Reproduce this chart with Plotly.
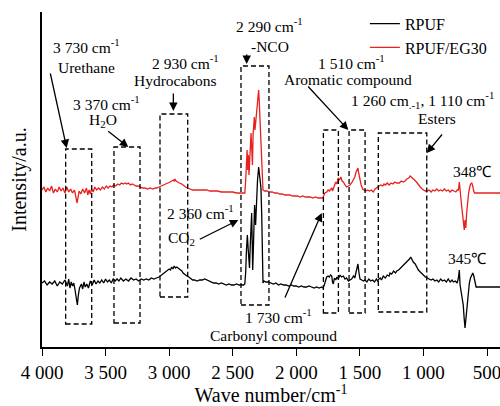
import plotly.graph_objects as go

# ---------------- data ----------------
rpuf_wn = [4000, 3980, 3960, 3940, 3920, 3900, 3880, 3860, 3840, 3820, 3800, 3790, 3780, 3770, 3760, 3750,
           3740, 3730, 3722, 3715, 3705, 3690, 3680, 3670, 3660, 3648, 3635, 3620, 3605, 3590, 3575, 3560,
           3545, 3530, 3515, 3500, 3485, 3470, 3455, 3440, 3425, 3410, 3395, 3380, 3360, 3340, 3320, 3300,
           3280, 3260, 3240, 3220, 3200, 3180, 3160, 3140, 3120, 3100, 3080, 3060, 3040, 3020, 3000, 2990,
           2980, 2970, 2960, 2950, 2940, 2930, 2920, 2910, 2900, 2890, 2875, 2860, 2845, 2830, 2815, 2800,
           2780, 2760, 2740, 2720, 2705, 2690, 2670, 2650, 2630, 2610, 2590, 2570, 2550, 2530, 2510, 2490,
           2470, 2450, 2430, 2415, 2405, 2398, 2392, 2385, 2378, 2372, 2368, 2362, 2356, 2351, 2347, 2343,
           2338, 2333, 2328, 2320, 2314, 2305, 2296, 2290, 2283, 2278, 2272, 2266, 2262, 2255, 2240, 2220,
           2200, 2180, 2160, 2140, 2120, 2100, 2080, 2060, 2040, 2020, 2000, 1980, 1960, 1940, 1920, 1900,
           1880, 1860, 1840, 1820, 1800, 1790, 1780, 1770, 1761, 1750, 1740, 1730, 1721, 1715, 1709, 1700,
           1690, 1680, 1670, 1656, 1645, 1630, 1617, 1605, 1590, 1578, 1565, 1550, 1540, 1530, 1522, 1515,
           1508, 1499, 1485, 1470, 1460, 1445, 1430, 1415, 1400, 1385, 1370, 1360, 1350, 1340, 1330, 1316,
           1300, 1285, 1270, 1263, 1250, 1235, 1220, 1210, 1195, 1180, 1165, 1155, 1140, 1125, 1110, 1100,
           1090, 1080, 1065, 1053, 1040, 1025, 1010, 1000, 985, 970, 955, 940, 925, 910, 895, 880,
           865, 850, 835, 820, 805, 790, 775, 765, 750, 735, 725, 718, 712, 705, 695, 687,
           680, 673, 667, 660, 653, 646, 639, 630, 620, 612, 604, 597, 592, 586, 500, 398]
rpuf_px = [283, 281, 285, 282, 284, 281, 286, 282, 284, 280, 286, 279, 288, 282, 286, 283,
           290, 298, 305, 296, 288, 284, 289, 282, 287, 284, 288, 281, 285, 280, 284, 281,
           283, 280, 283, 279, 282, 280, 283, 279, 281, 279, 281, 278, 281, 279, 281, 278,
           280, 279, 281, 279, 280, 279, 280, 278, 279, 278, 277, 275, 273, 271, 269, 270,
           267, 269, 266, 268, 267, 268, 269, 270, 271, 273, 275, 276, 277, 279, 280, 280,
           281, 280, 280, 279, 280, 281, 282, 283, 283, 284, 283, 284, 285, 284, 285, 285,
           284, 285, 285, 285, 284, 272, 250, 235, 250, 262, 268, 245, 225, 213, 240, 270,
           250, 215, 205, 225, 200, 180, 167, 175, 183, 188, 215, 260, 283, 281, 282, 282,
           283, 284, 283, 285, 284, 285, 285, 286, 285, 286, 286, 287, 286, 287, 287, 286,
           287, 288, 287, 288, 287, 288, 285, 280, 277, 276, 277, 275, 276, 282, 284, 278,
           280, 277, 279, 275, 277, 276, 279, 278, 281, 280, 279, 276, 278, 272, 268, 264,
           272, 279, 280, 281, 280, 282, 279, 281, 280, 282, 279, 281, 279, 278, 280, 276,
           278, 275, 276, 273, 274, 271, 273, 271, 270, 268, 267, 265, 263, 261, 259, 257,
           260, 262, 264, 267, 270, 272, 274, 275, 277, 278, 279, 280, 279, 281, 280, 282,
           279, 281, 280, 282, 279, 282, 280, 282, 281, 283, 278, 270, 285, 292, 300, 305,
           318, 328, 320, 310, 298, 290, 283, 278, 274, 273, 276, 280, 286, 287, 287, 287]

eg_wn = [4000, 3985, 3970, 3955, 3940, 3925, 3910, 3895, 3880, 3865, 3850, 3835, 3820, 3805, 3790, 3775,
         3760, 3745, 3735, 3725, 3717, 3708, 3695, 3680, 3665, 3650, 3640, 3630, 3620, 3610, 3597, 3585,
         3570, 3555, 3540, 3525, 3510, 3495, 3480, 3465, 3450, 3435, 3420, 3405, 3390, 3375, 3360, 3345,
         3334, 3320, 3305, 3290, 3275, 3260, 3245, 3229, 3210, 3190, 3170, 3150, 3127, 3110, 3098, 3080,
         3060, 3040, 3020, 3005, 2993, 2980, 2967, 2960, 2954, 2945, 2935, 2920, 2901, 2885, 2870, 2855,
         2836, 2815, 2790, 2760, 2730, 2705, 2680, 2650, 2620, 2590, 2560, 2530, 2500, 2470, 2440, 2420,
         2405, 2398, 2392, 2387, 2382, 2377, 2372, 2368, 2363, 2356, 2350, 2345, 2340, 2335, 2330, 2325,
         2318, 2310, 2302, 2296, 2292, 2286, 2280, 2274, 2268, 2262, 2250, 2230, 2210, 2190, 2170, 2150,
         2130, 2110, 2090, 2070, 2050, 2030, 2010, 1990, 1970, 1950, 1930, 1910, 1890, 1870, 1850, 1830,
         1810, 1795, 1785, 1775, 1761, 1750, 1740, 1730, 1721, 1715, 1709, 1700, 1690, 1680, 1670, 1660,
         1650, 1640, 1630, 1617, 1605, 1590, 1578, 1565, 1550, 1540, 1530, 1522, 1515, 1508, 1499, 1490,
         1478, 1468, 1455, 1440, 1425, 1410, 1395, 1380, 1365, 1350, 1335, 1320, 1310, 1300, 1285, 1270,
         1255, 1240, 1225, 1210, 1190, 1175, 1160, 1145, 1130, 1115, 1105, 1095, 1085, 1070, 1055, 1040,
         1025, 1010, 1000, 985, 970, 955, 940, 925, 910, 895, 880, 865, 850, 835, 820, 805,
         790, 775, 760, 745, 735, 725, 718, 712, 705, 698, 690, 684, 679, 673, 667, 660,
         652, 645, 637, 630, 620, 612, 605, 598, 500, 398]
eg_px = [190, 187, 192, 188, 191, 186, 193, 189, 192, 187, 191, 188, 193, 187, 192, 189,
         193, 190, 196, 203, 198, 191, 194, 189, 193, 188, 195, 190, 194, 189, 192, 187,
         190, 188, 190, 187, 189, 186, 188, 186, 187, 185, 186, 184, 185, 183, 184, 183,
         184, 183, 185, 184, 185, 186, 186, 187, 188, 188, 189, 188, 189, 188, 188, 187,
         186, 185, 184, 183, 182, 181, 180, 181, 179, 181, 182, 183, 184, 186, 187, 188,
         189, 190, 190, 190, 190, 190, 191, 191, 191, 192, 192, 192, 192, 193, 193, 193,
         193, 180, 160, 150, 170, 155, 175, 165, 145, 133, 150, 165, 135, 125, 117, 130,
         120, 105, 92, 90, 100, 120, 130, 160, 185, 190, 191, 191, 192, 192, 193, 193,
         194, 194, 195, 195, 195, 196, 196, 196, 197, 196, 197, 197, 197, 198, 197, 198,
         198, 198, 196, 193, 192, 190, 191, 189, 188, 191, 189, 185, 182, 184, 178, 180,
         177, 181, 182, 185, 187, 186, 185, 183, 180, 177, 172, 169, 168, 174, 180, 185,
         189, 190, 191, 190, 191, 190, 192, 189, 187, 186, 185, 186, 184, 185, 183, 185,
         183, 184, 182, 183, 183, 181, 182, 181, 179, 178, 176, 177, 178, 180, 182, 185,
         187, 189, 190, 191, 191, 190, 192, 190, 191, 189, 191, 190, 191, 189, 191, 190,
         192, 190, 191, 192, 190, 190, 182, 192, 200, 208, 217, 225, 230, 220, 228, 213,
         200, 193, 188, 184, 183, 186, 191, 193, 193, 193]

# intensity in arbitrary units (picture height above the axis)
rpuf_int = [347 - v for v in rpuf_px]
eg_int = [347 - v for v in eg_px]

tick_vals = [4000, 3500, 3000, 2500, 2000, 1500, 1000, 500]
tick_text = ["4 000", "3 500", "3 000", "2 500", "2 000", "1 500", "1 000", "500"]

# dashed boxes: (wn_left, wn_right, int_bottom, int_top)
boxes = [(3814, 3609, 23, 198), (3434, 3229, 24, 200), (3072, 2854, 50, 233),
         (2435, 2215, 42, 281), (1787, 1669, 34, 217), (1585, 1459, 34, 217),
         (1355, 974, 35, 214)]

# labels: (text, wn, intensity)
labels = [
    ("3 730 cm<sup>-1</sup>", 3648, 301),
    ("Urethane", 3648, 280),
    ("3 370 cm<sup>-1</sup>", 3491, 244),
    ("H<sub>2</sub>O", 3524, 227),
    ("2 930 cm<sup>-1</sup>", 2875, 285),
    ("Hydrocabons", 2948, 267),
    ("2 290 cm<sup>-1</sup>", 2207, 322),
    ("-NCO", 2207, 301),
    ("1 510 cm<sup>-1</sup>", 1564, 285),
    ("Aromatic compound", 1597, 268),
    ("1 260 cm<sub>.-1</sub>, 1 110 cm<sup>-1</sup>", 1007, 247),
    ("Esters", 896, 229),
    ("348\u2103", 618, 176),
    ("345\u2103", 653, 89),
    ("2 360 cm<sup>-1</sup>", 2757, 135),
    ("CO<sub>2</sub>", 2899, 109),
    ("1 730 cm<sup>-1</sup>", 2140, 31),
    ("Carbonyl compound", 2177, 12),
]

# arrows: (tail_wn, tail_int, head_wn, head_int)
arrows = [(3937, 275, 3806, 199), (3491, 217, 3321, 200), (2967, 255, 2967, 236),
          (2390, 294, 2390, 283), (2771, 107, 2456, 127), (2094, 48, 1800, 134),
          (1918, 262, 1591, 217), (844, 214, 974, 194)]

FONT = "Liberation Serif, Times New Roman, serif"

fig = go.Figure()
fig.add_trace(go.Scatter(x=rpuf_wn, y=rpuf_int, mode="lines", name="RPUF",
                         line=dict(color="black", width=1.3)))
fig.add_trace(go.Scatter(x=eg_wn, y=eg_int, mode="lines", name="RPUF/EG30",
                         line=dict(color="#e8201e", width=1.3)))

for x0, x1, y0, y1 in boxes:
    fig.add_shape(type="rect", x0=x0, x1=x1, y0=y0, y1=y1, xref="x", yref="y",
                  line=dict(color="black", width=1.3, dash="5px,3px"), fillcolor="rgba(0,0,0,0)")

for t, x, y in labels:
    fig.add_annotation(text=t, x=x, y=y, xref="x", yref="y", showarrow=False,
                       font=dict(family=FONT, size=15.5, color="black"))

for tx, ty, hx, hy in arrows:
    fig.add_annotation(text="", x=hx, y=hy, ax=tx, ay=ty, xref="x", yref="y",
                       axref="x", ayref="y", showarrow=True, arrowhead=2,
                       arrowsize=1.3, arrowwidth=1.3, arrowcolor="black", standoff=0)

fig.update_layout(
    width=500, height=406,
    margin=dict(l=42, r=0, t=12, b=59, autoexpand=False),
    paper_bgcolor="white", plot_bgcolor="white",
    font=dict(family=FONT, color="black"),
    showlegend=True,
    legend=dict(x=0.705, y=1.016, xanchor="left", yanchor="top",
                font=dict(family=FONT, size=16), bgcolor="rgba(0,0,0,0)",
                tracegroupgap=0),
    xaxis=dict(range=[4000, 398], tickvals=tick_vals, ticktext=tick_text,
               showgrid=False, zeroline=False, showline=True, linecolor="black",
               linewidth=1.5, ticks="outside", ticklen=7, tickwidth=1.3, tickcolor="black",
               tickfont=dict(family=FONT, size=19), automargin=False,
               ticklabeloverflow="allow",
               title=dict(text="Wave number/cm<sup>-1</sup>", font=dict(family=FONT, size=20),
                          standoff=0)),
    yaxis=dict(range=[0, 335], showgrid=False, zeroline=False, showline=True,
               linecolor="black", linewidth=1.5, ticks="", showticklabels=False,
               automargin=False,
               title=dict(text="Intensity/a.u.", font=dict(family=FONT, size=20), standoff=8)),
)

fig.write_html("out.html", config={"displayModeBar": False},
               post_script="document.body.style.margin='0';document.body.style.overflow='hidden';")
